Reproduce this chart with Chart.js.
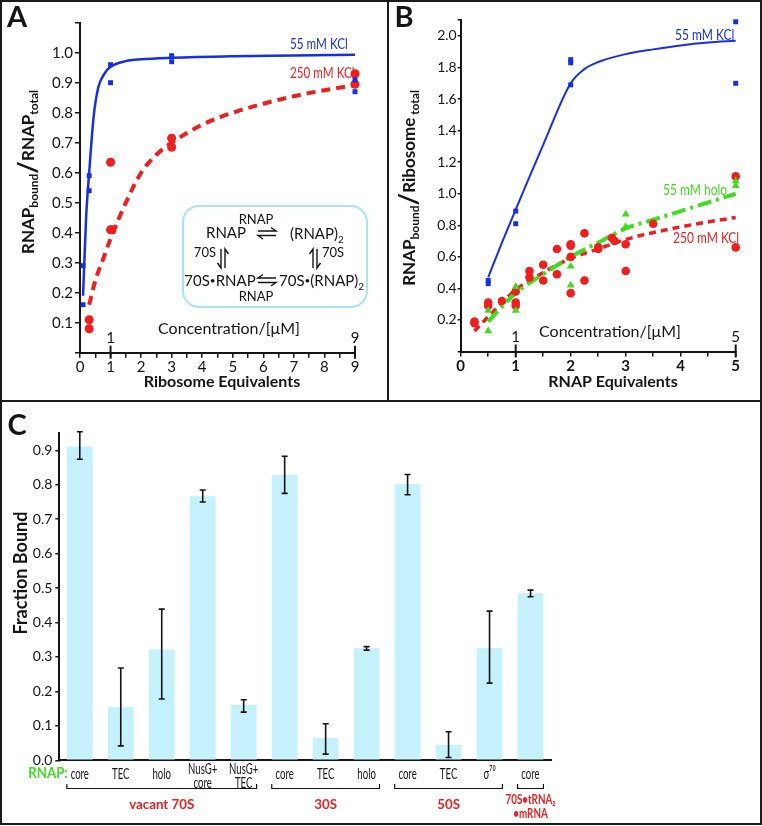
<!DOCTYPE html>
<html lang="en">
<head>
<meta charset="utf-8">
<title>RNAP binding to ribosomes</title>
<script src="https://cdn.jsdelivr.net/npm/chart.js@4.4.1/dist/chart.umd.min.js"></script>
<style>
  html, body { margin: 0; padding: 0; background: #fff; }
  #fig { position: relative; width: 762px; height: 826px; overflow: hidden; background: #fff; }
  #fig canvas { position: absolute; }
  #cA { left: 0; top: 0; }
  #cB { left: 388px; top: 0; }
  #cC { left: 0; top: 400px; }
  .rule { position: absolute; background: #1b1b1b; }
  #frame { position: absolute; left: 0; top: 0; width: 762px; height: 825px; box-sizing: border-box; border: 2px solid #1b1b1b; }
</style>
</head>
<body>
<div id="fig">
  <canvas id="cA" width="388" height="400"></canvas>
  <canvas id="cB" width="374" height="400"></canvas>
  <canvas id="cC" width="762" height="424"></canvas>
  <div class="rule" style="left:387px;top:0;width:2px;height:401px"></div>
  <div class="rule" style="left:0;top:400px;width:762px;height:2px"></div>
  <div id="frame"></div>
</div>
<script>
// ---------- panel A: RNAP bound / RNAP total vs ribosome equivalents ----------
const aKcl55X = [0.1, 0.1, 0.3, 0.3, 1, 1, 3, 3, 9, 9];
const aKcl55Y = [0.29, 0.16, 0.59, 0.54, 0.96, 0.90, 0.99, 0.97, 0.91, 0.87];
const aKcl250X = [0.3, 0.3, 1, 1, 1.05, 3, 3, 9, 9];
const aKcl250Y = [0.11, 0.08, 0.635, 0.41, 0.41, 0.715, 0.685, 0.93, 0.895];
// fitted curves
const aFit55X = [0.1, 0.2, 0.3, 0.45, 0.6, 0.8, 1, 1.5, 2, 3, 5, 9];
const aFit55Y = [0.19, 0.45, 0.60, 0.79, 0.885, 0.93, 0.953, 0.972, 0.978, 0.983, 0.988, 0.993];
const aFit250X = [0.3, 0.5, 0.75, 1, 1.5, 2, 2.5, 3, 4, 5, 6, 7, 8, 9];
const aFit250Y = [0.16, 0.24, 0.31, 0.38, 0.50, 0.60, 0.66, 0.70, 0.76, 0.80, 0.83, 0.855, 0.875, 0.892];
const aYTicks = [0, 0.1, 0.2, 0.3, 0.4, 0.5, 0.6, 0.7, 0.8, 0.9, 1.0, 1.1];
const aXTicks = [0, 0.5, 1, 1.5, 2, 2.5, 3, 3.5, 4, 4.5, 5, 5.5, 6, 6.5, 7, 7.5, 8, 8.5, 9];
const aConcTicks = [1, 9];

// ---------- panel B: RNAP bound / ribosome total vs RNAP equivalents ----------
const bKcl55X = [0.5, 0.5, 1, 1, 2, 2, 2, 5, 5];
const bKcl55Y = [0.45, 0.43, 0.89, 0.81, 1.85, 1.83, 1.69, 2.09, 1.70];
const bKcl250X = [0.25, 0.25, 0.5, 0.5, 0.75, 1, 1, 1, 1.25, 1.25, 1.5, 1.5, 1.75, 1.75, 2, 2, 2, 2, 2.25, 2.25, 2.5, 2.5, 2.75, 2.8, 3, 3, 3.5, 5, 5];
const bKcl250Y = [0.19, 0.18, 0.31, 0.29, 0.32, 0.31, 0.29, 0.38, 0.51, 0.47, 0.55, 0.45, 0.65, 0.49, 0.68, 0.67, 0.60, 0.37, 0.75, 0.45, 0.66, 0.65, 0.72, 0.70, 0.68, 0.51, 0.81, 1.11, 0.66];
const bHoloX = [0.5, 0.5, 1, 1, 2, 2, 3, 3, 5, 5];
const bHoloY = [0.26, 0.13, 0.41, 0.26, 0.54, 0.42, 0.87, 0.79, 1.08, 1.05];
const bFit55X = [0.5, 0.75, 1, 1.5, 2, 2.25, 2.5, 3, 3.5, 4, 4.5, 5];
const bFit55Y = [0.47, 0.69, 0.90, 1.31, 1.70, 1.79, 1.835, 1.885, 1.915, 1.94, 1.958, 1.97];
const bFit250X = [0.25, 0.5, 1, 1.5, 2, 2.5, 3, 4, 5];
const bFit250Y = [0.13, 0.22, 0.39, 0.50, 0.59, 0.65, 0.71, 0.79, 0.85];
const bFitHoloX = [0.5, 1, 1.5, 2, 2.5, 3, 3.5, 4, 5];
const bFitHoloY = [0.19, 0.37, 0.49, 0.60, 0.69, 0.78, 0.835, 0.89, 1.0];
const bYTicks = [0, 0.2, 0.4, 0.6, 0.8, 1.0, 1.2, 1.4, 1.6, 1.8, 2.0, 2.1];
const bXTicks = [0, 0.5, 1, 1.5, 2, 2.5, 3, 3.5, 4, 4.5, 5];
const bConcTicks = [1, 5];

// ---------- panel C: fraction bound per RNAP form / ribosome species ----------
const cLabels = ['core', 'TEC', 'holo', ['NusG+', 'core'], ['NusG+', 'TEC'], 'core', 'TEC', 'holo', 'core', 'TEC', 'σ⁷⁰', 'core'];
const cFraction = [0.911, 0.154, 0.322, 0.767, 0.161, 0.828, 0.065, 0.325, 0.803, 0.045, 0.325, 0.485];
const cErrLow = [0.874, 0.042, 0.178, 0.750, 0.140, 0.775, 0.018, 0.320, 0.771, 0.008, 0.224, 0.475];
const cErrHigh = [0.954, 0.268, 0.439, 0.785, 0.176, 0.883, 0.106, 0.330, 0.830, 0.083, 0.433, 0.494];
const cGroupNames = [['vacant 70S'], ['30S'], ['50S'], ['70S•tRNA₂', '•mRNA']];
const cGroupFrom = [0, 5, 8, 11];
const cGroupTo = [4, 7, 10, 11];
const cYTicks = [0, 0.1, 0.2, 0.3, 0.4, 0.5, 0.6, 0.7, 0.8, 0.9];

const FONT = 'Lato, "Open Sans", "DejaVu Sans", sans-serif';
const INK = '#151515';
const BLUE = 'rgb(22, 46, 232)';
const RED = 'rgb(240, 30, 30)';
const GREEN = 'rgb(62, 222, 30)';
const BAR = '#c4f1fb';

const pts = (xs, ys) => xs.map((x, i) => ({ x, y: ys[i] }));

function txt(ctx, s, x, y, font, color, align = 'center', sx = 1) {
  ctx.save();
  ctx.font = font;
  ctx.fillStyle = color;
  ctx.textAlign = align;
  ctx.textBaseline = 'middle';
  ctx.translate(x, y);
  ctx.scale(sx, 1);
  ctx.fillText(s, 0, 0);
  ctx.restore();
}

// parts: [text, size, bold, baseline shift]
function rich(ctx, parts, x, y, rot, align = 'center') {
  ctx.save();
  ctx.translate(x, y);
  ctx.rotate(rot);
  ctx.fillStyle = INK;
  ctx.textBaseline = 'alphabetic';
  ctx.textAlign = 'left';
  const fonts = parts.map(p => `${p[2] ? 'bold ' : ''}${p[1]}px ${FONT}`);
  let w = 0;
  parts.forEach((p, i) => { ctx.font = fonts[i]; w += ctx.measureText(p[0]).width; });
  let cx = align === 'center' ? -w / 2 : 0;
  parts.forEach((p, i) => {
    ctx.font = fonts[i];
    ctx.fillText(p[0], cx, p[3]);
    cx += ctx.measureText(p[0]).width;
  });
  ctx.restore();
}

// concentration marks crossing the x axis
function concMarks(ctx, scale, axisY, values, labelY) {
  ctx.save();
  ctx.strokeStyle = INK;
  ctx.lineWidth = 2;
  values.forEach(v => {
    const px = scale.getPixelForValue(v);
    ctx.beginPath();
    ctx.moveTo(px, axisY - 7);
    ctx.lineTo(px, axisY + 6);
    ctx.stroke();
    txt(ctx, String(v), px, labelY, `15px ${FONT}`, INK);
  });
  ctx.restore();
}

function harpoon(ctx, x1, y1, x2, y2, side) {
  const len = Math.hypot(x2 - x1, y2 - y1);
  const dx = (x2 - x1) / len, dy = (y2 - y1) / len;
  const nx = -dy * side, ny = dx * side;
  ctx.beginPath();
  ctx.moveTo(x1, y1);
  ctx.lineTo(x2, y2);
  ctx.lineTo(x2 - dx * 5 + nx * 3.5, y2 - dy * 5 + ny * 3.5);
  ctx.stroke();
}

function drawScheme(ctx) {
  ctx.save();
  ctx.strokeStyle = '#a6e4f6';
  ctx.lineWidth = 2;
  ctx.beginPath();
  ctx.roundRect(183, 206, 184, 101, 16);
  ctx.stroke();
  const small = `13px ${FONT}`;
  txt(ctx, 'RNAP', 226, 233, `15px ${FONT}`, INK);
  txt(ctx, 'RNAP', 256, 220, small, INK);
  rich(ctx, [['(RNAP)', 15, 0, 0], ['2', 10, 0, 4]], 290, 238.5, 0, 'left');
  txt(ctx, '70S', 216, 253, small, INK, 'right');
  txt(ctx, '70S', 322, 253, small, INK, 'left');
  rich(ctx, [['70S', 15, 0, 0], ['•', 10, 0, -2], ['RNAP', 15, 0, 0]], 220, 285.5, 0);
  rich(ctx, [['70S', 15, 0, 0], ['•', 10, 0, -2], ['(RNAP)', 15, 0, 0], ['2', 10, 0, 4]], 279, 285.5, 0, 'left');
  txt(ctx, 'RNAP', 256, 297, small, INK);
  ctx.strokeStyle = INK;
  ctx.lineWidth = 1.4;
  harpoon(ctx, 258, 231, 276, 231, -1);
  harpoon(ctx, 276, 235.5, 258, 235.5, -1);
  harpoon(ctx, 276, 278, 258, 278, 1);
  harpoon(ctx, 258, 282.5, 276, 282.5, 1);
  harpoon(ctx, 221, 249, 221, 268, 1);
  harpoon(ctx, 225, 268, 225, 249, 1);
  harpoon(ctx, 313, 268, 313, 249, -1);
  harpoon(ctx, 317, 249, 317, 268, -1);
  ctx.restore();
}

function linAxis(min, max, ticks, fmt, size, font, tickLen, pad, horizontal) {
  return {
    type: 'linear', min, max,
    afterBuildTicks: s => { s.ticks = ticks.map(v => ({ value: v })); },
    afterFit: s => { if (horizontal) s.height = size; else s.width = size; },
    ticks: { callback: fmt, font, color: INK, padding: pad, autoSkip: false, maxRotation: 0 },
    grid: { drawOnChartArea: false, tickLength: tickLen, color: INK, lineWidth: 1.5 },
    border: { color: INK, width: 2 }
  };
}

function baseOptions(padding, scales) {
  return {
    responsive: false,
    animation: false,
    devicePixelRatio: 1,
    layout: { padding },
    plugins: { legend: { display: false }, tooltip: { enabled: false } },
    scales
  };
}

const marks = (data, style, r, color) => ({
  data, pointStyle: style, pointRadius: r, pointBackgroundColor: color,
  pointBorderWidth: 0, showLine: false, clip: false
});
const curve = (data, color, width, dash) => ({
  data, showLine: true, pointRadius: 0, borderColor: color, borderWidth: width,
  borderDash: dash, cubicInterpolationMode: 'monotone', clip: false
});

// ---------- panel A ----------
const panelA = {
  id: 'panelA',
  afterDraw(chart) {
    const { ctx, scales: { x } } = chart;
    txt(ctx, 'A', 17, 18, `bold 29px ${FONT}`, INK);
    rich(ctx, [['RNAP', 17, 1, 0], ['bound', 12, 1, 4], ['/', 27, 1, 3], ['RNAP', 17, 1, 0], ['total', 12, 1, 4]], 34, 172, -Math.PI / 2);
    txt(ctx, 'Ribosome Equivalents', 222, 382, `bold 16px ${FONT}`, INK);
    concMarks(ctx, x, chart.chartArea.bottom, aConcTicks, 338);
    txt(ctx, 'Concentration/[μM]', 229, 329, `16px ${FONT}`, INK);
    txt(ctx, '55 mM KCl', 290, 44, `15px ${FONT}`, BLUE, 'left', 0.78);
    txt(ctx, '250 mM KCl', 290, 73, `15px ${FONT}`, RED, 'left', 0.78);
    drawScheme(ctx);
  }
};

new Chart(document.getElementById('cA'), {
  type: 'scatter',
  data: {
    datasets: [
      marks(pts(aKcl55X, aKcl55Y), 'rect', 3.5, BLUE),
      marks(pts(aKcl250X, aKcl250Y), 'circle', 4.5, RED),
      curve(pts(aFit55X, aFit55Y), BLUE, 2.5, []),
      curve(pts(aFit250X, aFit250Y), RED, 4, [9, 6])
    ]
  },
  options: baseOptions({ top: 22.7, right: 33, bottom: 0, left: 0 }, {
    x: linAxis(0, 9, aXTicks, v => Number.isInteger(v) ? String(v) : '', 47.3, { size: 15, family: FONT }, 5, 0, true),
    y: linAxis(0, 1.1, aYTicks, v => (v > 0.05 && v < 1.05) ? v.toFixed(1) : '', 80, { size: 15, family: FONT }, 5, 2, false)
  }),
  plugins: [panelA]
});

// ---------- panel B ----------
const panelB = {
  id: 'panelB',
  afterDraw(chart) {
    const { ctx, scales: { x } } = chart;
    txt(ctx, 'B', 16, 18, `bold 29px ${FONT}`, INK);
    rich(ctx, [['RNAP', 17, 1, 0], ['bound', 12, 1, 4], ['/', 27, 1, 3], ['Ribosome', 17, 1, 0], [' total', 12, 1, 4]], 27, 188, -Math.PI / 2);
    txt(ctx, 'RNAP Equivalents', 225, 382, `bold 16px ${FONT}`, INK);
    concMarks(ctx, x, chart.chartArea.bottom, bConcTicks, 337);
    txt(ctx, 'Concentration/[μM]', 222, 332, `16px ${FONT}`, INK);
    txt(ctx, '55 mM KCl', 287, 35, `15px ${FONT}`, BLUE, 'left', 0.8);
    txt(ctx, '55 mM holo', 275, 190, `15px ${FONT}`, GREEN, 'left', 0.8);
    txt(ctx, '250 mM KCl', 285, 238, `15px ${FONT}`, RED, 'left', 0.8);
  }
};

new Chart(document.getElementById('cB'), {
  type: 'scatter',
  data: {
    datasets: [
      marks(pts(bKcl55X, bKcl55Y), 'rect', 3.5, BLUE),
      marks(pts(bHoloX, bHoloY), 'triangle', 4.5, GREEN),
      marks(pts(bKcl250X, bKcl250Y), 'circle', 4.3, RED),
      curve(pts(bFit55X, bFit55Y), BLUE, 2, []),
      curve(pts(bFitHoloX, bFitHoloY), GREEN, 4, [14, 5, 3, 5]),
      curve(pts(bFit250X, bFit250Y), RED, 3.5, [7, 5])
    ]
  },
  options: baseOptions({ top: 20.2, right: 26.3, bottom: 0, left: 0 }, {
    x: linAxis(0, 5, bXTicks, v => Number.isInteger(v) ? String(v) : '', 48.5, { size: 15, weight: 'bold', family: FONT }, 5, 1, true),
    y: linAxis(0, 2.1, bYTicks, v => (v > 0.1 && v < 2.05) ? v.toFixed(1) : '', 72.7, { size: 14, family: FONT }, 3, 1, false)
  }),
  plugins: [panelB]
});

// ---------- panel C ----------
const panelC = {
  id: 'panelC',
  afterDraw(chart) {
    const { ctx, scales: { x, y } } = chart;
    const bars = chart.getDatasetMeta(0).data;
    txt(ctx, 'C', 17, 26, `bold 29px ${FONT}`, INK);
    rich(ctx, [['Fraction Bound', 18, 1, 0]], 27, 173, -Math.PI / 2);

    ctx.save();
    ctx.strokeStyle = INK;
    ctx.lineWidth = 1.6;
    cFraction.forEach((v, i) => {
      const px = x.getPixelForValue(i);
      const lo = y.getPixelForValue(cErrLow[i]);
      const hi = y.getPixelForValue(cErrHigh[i]);
      ctx.beginPath();
      ctx.moveTo(px, lo); ctx.lineTo(px, hi);
      ctx.moveTo(px - 3, lo); ctx.lineTo(px + 3, lo);
      ctx.moveTo(px - 3, hi); ctx.lineTo(px + 3, hi);
      ctx.stroke();
    });

    const catFont = `16px ${FONT}`;
    cLabels.forEach((lab, i) => {
      const px = x.getPixelForValue(i);
      if (Array.isArray(lab)) {
        txt(ctx, lab[0], px, 369, catFont, INK, 'center', 0.6);
        txt(ctx, lab[1], px, 383, catFont, INK, 'center', 0.6);
      } else {
        txt(ctx, lab, px, 374, catFont, INK, 'center', 0.6);
      }
    });
    txt(ctx, 'RNAP:', 48, 373, `bold 15px ${FONT}`, GREEN, 'center', 0.88);

    ctx.lineWidth = 1.2;
    cGroupNames.forEach((name, g) => {
      const half = bars[cGroupFrom[g]].width / 2;
      const xl = x.getPixelForValue(cGroupFrom[g]) - half;
      const xr = x.getPixelForValue(cGroupTo[g]) + half;
      ctx.beginPath();
      ctx.moveTo(xl, 384); ctx.lineTo(xl, 388.5); ctx.lineTo(xr, 388.5); ctx.lineTo(xr, 384);
      ctx.stroke();
      const cx = (xl + xr) / 2;
      if (name.length > 1) {
        txt(ctx, name[0], cx, 399, `bold 14px ${FONT}`, RED, 'center', 0.7);
        txt(ctx, name[1], cx, 413, `bold 14px ${FONT}`, RED, 'center', 0.7);
      } else {
        txt(ctx, name[0], cx, 404, `bold 14px ${FONT}`, RED, 'center', 0.95);
      }
    });
    ctx.restore();
  }
};

new Chart(document.getElementById('cC'), {
  type: 'bar',
  data: {
    labels: cLabels,
    datasets: [{ data: cFraction, backgroundColor: BAR, barPercentage: 0.63, categoryPercentage: 1 }]
  },
  options: baseOptions({ top: 33.1, right: 211, bottom: 0, left: 0 }, {
    x: {
      type: 'category', offset: true,
      afterFit: s => { s.height = 63.7; },
      ticks: { display: false },
      grid: { drawOnChartArea: false, drawTicks: false },
      border: { color: INK, width: 2 }
    },
    y: linAxis(0, 0.95, cYTicks, v => v.toFixed(1), 59.3, { size: 14, family: FONT }, 4, 3, false)
  }),
  plugins: [panelC]
});
</script>
</body>
</html>
